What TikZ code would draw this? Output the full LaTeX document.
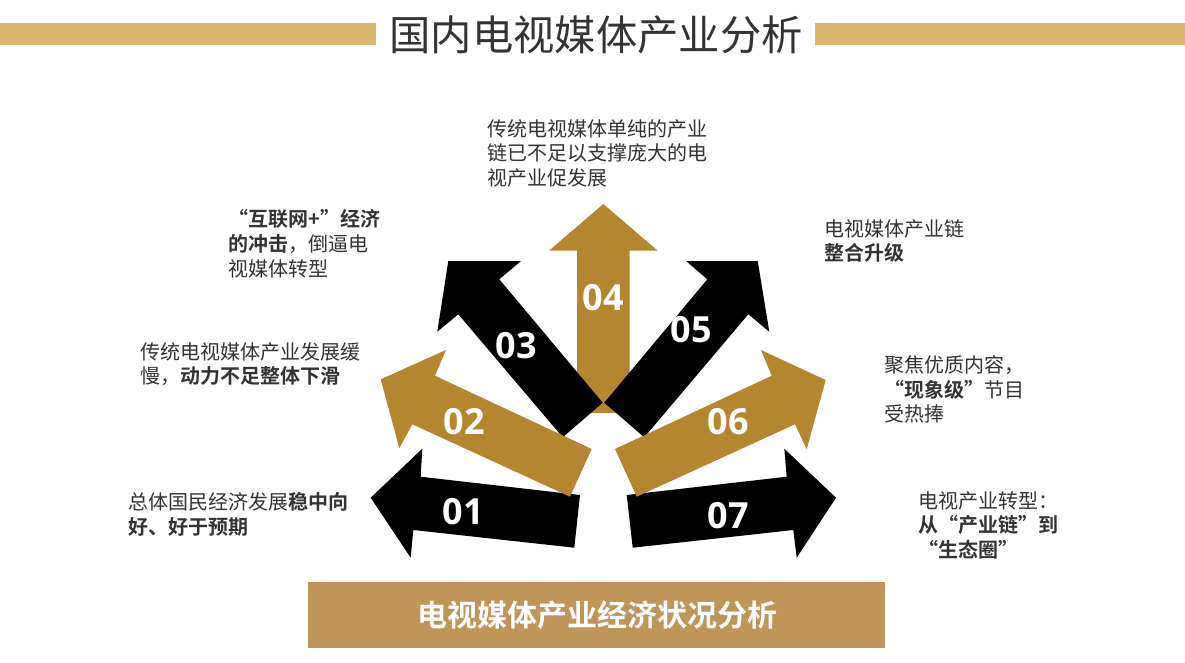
\documentclass[tikz,border=0pt]{standalone}
\usepackage{fontspec}
\setmainfont{Noto Sans CJK SC}[BoldFont={Noto Sans CJK SC Bold}]
\newfontfamily\numfont{Open Sans}
\definecolor{gbar}{HTML}{DDB76E}
\definecolor{garrow}{HTML}{B3862F}
\definecolor{gbox}{HTML}{C0955A}
\definecolor{txt}{HTML}{333333}
\tikzset{
  num/.style={text=white,font=\numfont\bfseries\fontsize{27}{30}\selectfont},
  side/.style={text=txt,anchor=north west,align=left,inner sep=0pt,font=\fontsize{15}{18.6}\selectfont}
}
\begin{document}
\begin{tikzpicture}[x=0.75pt,y=-0.75pt]
\useasboundingbox (0,0) rectangle (1185,662);
% title bars
\fill[gbar] (0,23) rectangle (376,45);
\fill[gbar] (815,23) rectangle (1185,45);
\node[text=txt,font=\fontsize{31}{36}\selectfont] (title) at (596,35) {国内电视媒体产业分析};
% arrows
\fill[garrow] (603.3,204) -- (657.7,250.7) -- (629.7,250.7) -- (629.7,413) -- (577,413) -- (577,250.7) -- (549,250.7) -- cycle;
\fill[black] (448.3,261) -- (521,261) -- (499.3,279.3) -- (602.7,402.7) -- (562.7,437.3) -- (458.3,314.3) -- (437.3,331.7) -- cycle;
\fill[black] (757.7,261) -- (686,261) -- (707.3,279.3) -- (604.3,402.7) -- (644.3,437.3) -- (748.3,314.3) -- (769.3,331.7) -- cycle;
\fill[black] (370.7,497.7) -- (422.3,448.7) -- (420.7,476.7) -- (580,495) -- (574.3,547.7) -- (413.3,530) -- (410.7,557.7) -- cycle;
\fill[black] (836,497.7) -- (784.3,448.7) -- (786.7,476.7) -- (626.7,495) -- (632.7,547.7) -- (793.3,530) -- (796.7,557.7) -- cycle;
\fill[garrow] (380.7,379.3) -- (446,350) -- (435,375.7) -- (591.7,449) -- (570,496.7) -- (412.3,424.3) -- (399.3,448.3) -- cycle;
\fill[garrow] (825.7,380) -- (761,350) -- (771.7,375.7) -- (615,449) -- (636.7,496.7) -- (795,424.3) -- (806.7,449.3) -- cycle;
% numbers
\node[num] (n01) at (463,512) {01};
\node[num] (n02) at (464,422) {02};
\node[num] (n03) at (516,346) {03};
\node[num] (n04) at (603,298) {04};
\node[num] (n05) at (691,330) {05};
\node[num] (n06) at (728,422) {06};
\node[num] (n07) at (728,516) {07};
% side texts
\node[side] (t04) at (487,119) {传统电视媒体单纯的产业\\链已不足以支撑庞大的电\\视产业促发展};
\node[side] (t03) at (228,209) {\textbf{“互联网+”经济}\\\textbf{的冲击}，倒逼电\\视媒体转型};
\node[side] (t02) at (140,342) {传统电视媒体产业发展缓\\慢，\textbf{动力不足整体下滑}};
\node[side] (t01) at (128,492) {总体国民经济发展\textbf{稳中向}\\\textbf{好、好于预期}};
\node[side] (t05) at (824,219) {电视媒体产业链\\\textbf{整合升级}};
\node[side] (t06) at (884,355) {聚焦优质内容，\\\textbf{“现象级”}节目\\受热捧};
\node[side] (t07) at (918,491) {电视产业转型：\\\textbf{从“产业链”到}\\\textbf{“生态圈”}};
% bottom box
\fill[gbox] (308,582) rectangle (885,648);
\node[text=white,font=\bfseries\fontsize{22.5}{26}\selectfont] (bottom) at (597,615) {电视媒体产业经济状况分析};
\end{tikzpicture}
\end{document}
